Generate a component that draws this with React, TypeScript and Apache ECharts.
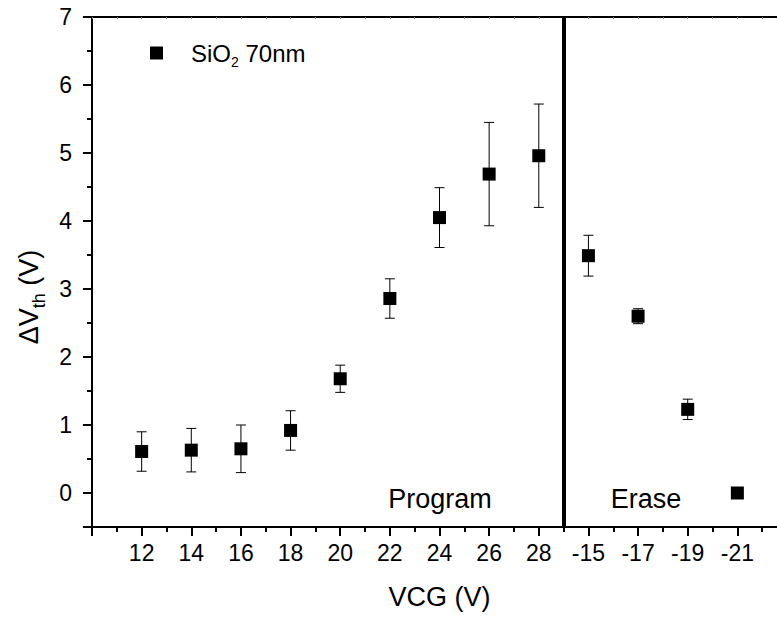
import { useEffect, useRef } from 'react';
import * as echarts from 'echarts';

// Gate voltage categories (program then erase)
const xLabels = ['12', '14', '16', '18', '20', '22', '24', '26', '28', '-15', '-17', '-19', '-21'];
// Threshold voltage shift (V)
const dVth = [0.61, 0.63, 0.65, 0.92, 1.68, 2.86, 4.05, 4.69, 4.96, 3.49, 2.6, 1.23, 0.0];
// Error (half-width, V)
const dVthErr = [0.29, 0.32, 0.35, 0.29, 0.2, 0.29, 0.44, 0.76, 0.76, 0.3, 0.11, 0.15, 0];
const yMajorTickValues = [-0.5, 0, 1, 2, 3, 4, 5, 6, 7];
const yLabelValues = [0, 1, 2, 3, 4, 5, 6, 7];
const seriesName = 'SiO2 70nm';
const regionNames = ['Program', 'Erase'];
const dividerAt = 9.5;

export default function App() {
  const ref = useRef<HTMLDivElement>(null);
  useEffect(() => {
    const chart = echarts.init(ref.current!, null, { renderer: 'svg' });
    const font = "'Liberation Sans', Arial, sans-serif";
    const pts = dVth.map((v, i) => [i + 1, v]);
    const errs = dVth.map((v, i) => [i + 1, v, dVthErr[i]]);

    chart.setOption({
      animation: false,
      backgroundColor: '#fff',
      textStyle: { fontFamily: font, color: '#000' },
      grid: { left: 92, top: 17, width: 695, height: 510, containLabel: false, outerBoundsMode: 'none' },
      legend: {
        show: true,
        left: 145,
        top: 36,
        icon: 'rect',
        itemWidth: 13,
        itemHeight: 13,
        data: [{ name: seriesName, icon: 'rect', itemStyle: { color: '#000', opacity: 1 } }],
        formatter: () => '{g|}{a|SiO}{s|2}{a| 70nm}',
        textStyle: {
          fontFamily: font,
          color: '#000',
          fontSize: 24,
          rich: {
            g: { width: 23 },
            a: { fontSize: 24, fontFamily: font, color: '#000' },
            s: { fontSize: 14, fontFamily: font, color: '#000', padding: [18, 0, 0, 0] },
          },
        },
      },
      xAxis: [
        {
          type: 'value',
          position: 'bottom',
          min: 0,
          max: 14,
          interval: 1,
          name: 'VCG (V)',
          nameLocation: 'middle',
          nameGap: 56,
          nameTextStyle: { fontFamily: font, fontSize: 27, color: '#000' },
          axisLine: { show: true, onZero: false, lineStyle: { color: '#000', width: 2 } },
          axisTick: { show: true, inside: false, length: 9, lineStyle: { color: '#000', width: 2 } },
          minorTick: { show: true, splitNumber: 2, length: 5, lineStyle: { color: '#000', width: 2 } },
          axisLabel: {
            show: true,
            margin: 14,
            fontFamily: font,
            fontSize: 23,
            color: '#000',
            formatter: (v: number) => {
              const i = Math.round(v) - 1;
              return Math.abs(v - Math.round(v)) < 1e-6 && i >= 0 && i < xLabels.length ? xLabels[i] : '';
            },
          },
          splitLine: { show: false },
          minorSplitLine: { show: false },
        },
        {
          type: 'value',
          position: 'top',
          min: 0,
          max: 14,
          interval: 1,
          axisLine: { show: true, onZero: false, lineStyle: { color: '#000', width: 2 } },
          axisTick: { show: true, inside: true, length: 2, lineStyle: { color: '#888', width: 1 } },
          minorTick: { show: true, splitNumber: 2, length: 2, lineStyle: { color: '#888', width: 1 } },
          axisLabel: { show: false },
          splitLine: { show: false },
        },
      ],
      yAxis: [
        {
          type: 'value',
          position: 'left',
          min: -0.5,
          max: 7,
          interval: 0.5,
          name: '{a|ΔV}{s|th}{a| (V)}',
          nameLocation: 'middle',
          nameGap: 44,
          nameRotate: 90,
          nameTextStyle: {
            fontFamily: font,
            fontSize: 27,
            color: '#000',
            padding: [0, 50, 0, 0],
            rich: {
              a: { fontSize: 27, fontFamily: font, color: '#000' },
              s: { fontSize: 18, fontFamily: font, color: '#000', padding: [20, 0, 0, 0] },
            },
          },
          axisLine: { show: true, onZero: false, lineStyle: { color: '#000', width: 2 } },
          axisTick: {
            show: true,
            inside: false,
            length: 9,
            customValues: yMajorTickValues,
            lineStyle: { color: '#000', width: 2 },
          },
          axisLabel: {
            show: true,
            margin: 20,
            fontFamily: font,
            fontSize: 23,
            color: '#000',
            customValues: yLabelValues,
            formatter: (v: number) => String(v),
          },
          splitLine: { show: false },
        },
        {
          type: 'value',
          position: 'left',
          min: -0.5,
          max: 7,
          interval: 0.5,
          axisLine: { show: false },
          axisTick: { show: true, inside: false, length: 5, lineStyle: { color: '#000', width: 2 } },
          axisLabel: { show: false },
          splitLine: { show: false },
        },
      ],
      graphic: [
        {
          type: 'text',
          x: 440,
          y: 499,
          style: { text: regionNames[0], font: `27px ${font}`, fill: '#000', align: 'center', verticalAlign: 'middle' },
        },
        {
          type: 'text',
          x: 646,
          y: 499,
          style: { text: regionNames[1], font: `27px ${font}`, fill: '#000', align: 'center', verticalAlign: 'middle' },
        },
      ],
      series: [
        {
          type: 'custom',
          name: 'err',
          xAxisIndex: 0,
          yAxisIndex: 0,
          encode: { x: 0, y: 1 },
          data: errs,
          z: 2,
          renderItem: (params: any, api: any) => {
            const x = api.value(0);
            const y = api.value(1);
            const e = api.value(2);
            if (!e) return { type: 'group', children: [] };
            const top = api.coord([x, y + e]);
            const bot = api.coord([x, y - e]);
            const hw = 5;
            const style = { stroke: '#000', lineWidth: 1 };
            return {
              type: 'group',
              children: [
                { type: 'line', shape: { x1: top[0], y1: top[1], x2: bot[0], y2: bot[1] }, style },
                { type: 'line', shape: { x1: top[0] - hw, y1: top[1], x2: top[0] + hw, y2: top[1] }, style },
                { type: 'line', shape: { x1: bot[0] - hw, y1: bot[1], x2: bot[0] + hw, y2: bot[1] }, style },
              ],
            };
          },
        },
        {
          type: 'scatter',
          name: seriesName,
          xAxisIndex: 0,
          yAxisIndex: 0,
          symbol: 'rect',
          symbolSize: 13,
          itemStyle: { color: '#000', opacity: 1 },
          data: pts,
          z: 3,
          markLine: {
            silent: true,
            symbol: 'none',
            label: { show: false },
            lineStyle: { color: '#000', width: 4, type: 'solid', opacity: 1 },
            data: [{ xAxis: dividerAt }],
          },
        },
      ],
    });
    return () => chart.dispose();
  }, []);
  return <div ref={ref} style={{ position: 'fixed', left: 0, top: 0, width: 777, height: 618 }} />;
}
